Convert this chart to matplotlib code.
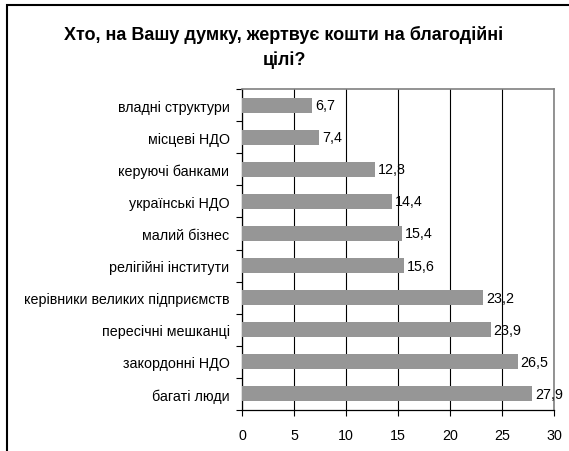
import matplotlib
matplotlib.use("Agg")
import matplotlib.pyplot as plt
from matplotlib.patches import Rectangle
import numpy as np

plt.rcParams['font.family'] = ['Liberation Sans', 'DejaVu Sans']

categories = ["владні структури", "місцеві НДО", "керуючі банками", "українські НДО",
              "малий бізнес", "релігійні інститути", "керівники великих підприємств",
              "пересічні мешканці", "закордонні НДО", "багаті люди"]
values = [6.7, 7.4, 12.8, 14.4, 15.4, 15.6, 23.2, 23.9, 26.5, 27.9]
xticks = [0, 5, 10, 15, 20, 25, 30]
title = "Хто, на Вашу думку, жертвує кошти на благодійні\nцілі?"

fig = plt.figure(figsize=(5.69, 4.52), dpi=100)
ax = fig.add_axes([242/569, 41/452, 312/569, 321/452])

y = np.arange(len(categories))
ax.barh(y, values, height=0.47, color="#969696", zorder=3)
for yi, v in zip(y, values):
    ax.text(v + 0.3, yi, f"{v:.1f}".replace(".", ","), va="center", ha="left",
            fontsize=10.3, zorder=4)

ax.set_ylim(len(categories) - 0.5, -0.5)
ax.set_xlim(0, 30)
ax.set_xticks(xticks)
ax.set_xticklabels([str(t) for t in xticks], fontsize=10.3)
ax.set_yticks(y)
ax.set_yticklabels(categories, fontsize=10.3)
ax.set_yticks(np.arange(-0.5, len(categories), 1.0), minor=True)
ax.tick_params(axis='y', which='major', length=0, pad=9)
ax.tick_params(axis='y', which='minor', length=4, width=0.8, direction='out')
ax.tick_params(axis='x', length=4, width=0.8, direction='out', pad=9)
ax.xaxis.grid(True, color="#000000", linewidth=0.8, zorder=0)
ax.set_axisbelow(True)
for s in ['left', 'bottom']:
    ax.spines[s].set_color('black')
    ax.spines[s].set_linewidth(0.9)
for s in ['top', 'right']:
    ax.spines[s].set_color('#808080')
    ax.spines[s].set_linewidth(1.2)

fig.text(284/569, 1 - 26/452, title, ha="center", va="top", fontsize=13,
         fontweight="bold", linespacing=1.5)

fig.patches.append(Rectangle((7/569, -0.05), 1.1, 1 - 6/452 + 0.05,
                             transform=fig.transFigure, fill=False,
                             edgecolor="black", linewidth=1.5))

fig.savefig("out.png", dpi=100)
